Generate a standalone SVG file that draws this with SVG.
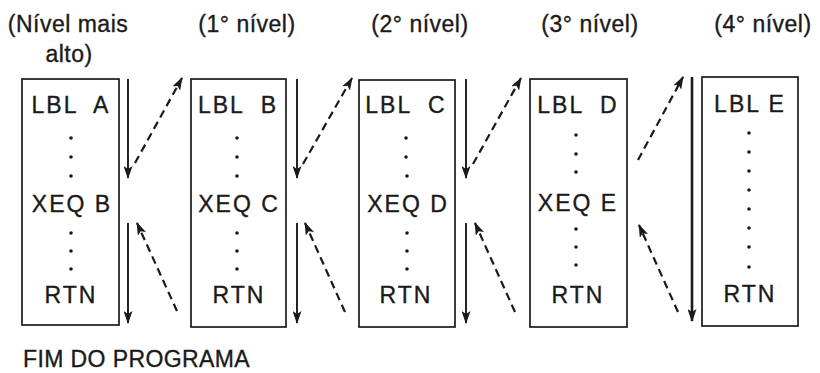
<svg xmlns="http://www.w3.org/2000/svg" width="820" height="373" viewBox="0 0 820 373">
<style>
text{font-family:"Liberation Sans",Arial,sans-serif;font-size:23px;fill:#1a1a1a;stroke:#1a1a1a;stroke-width:0.35}
.t{text-anchor:middle;letter-spacing:0.5px}
.b{text-anchor:middle;letter-spacing:2px}
.box{fill:none;stroke:#1a1a1a;stroke-width:1.7}
.dot{fill:#1a1a1a}
.s{stroke:#1a1a1a;stroke-width:1.9;fill:none;marker-end:url(#ah)}
.d{stroke:#1a1a1a;stroke-width:2.2;fill:none;stroke-dasharray:8 5;marker-end:url(#ah)}
</style>
<defs>
<marker id="ah" viewBox="0 0 13 9" refX="12" refY="4.5" markerWidth="13" markerHeight="9" markerUnits="userSpaceOnUse" orient="auto">
<path d="M0,0 L13,4.5 L0,9 L3,4.5 z" fill="#1a1a1a"/>
</marker>
</defs>
<g id="titles">
<text class="t" x="68" y="32">(Nível mais</text>
<text class="t" x="69" y="62">alto)</text>
<text class="t" x="247" y="32">(1° nível)</text>
<text class="t" x="420" y="32">(2° nível)</text>
<text class="t" x="590" y="32">(3° nível)</text>
<text class="t" x="763" y="32">(4° nível)</text>
</g>
<g id="boxA">
<rect class="box" x="22" y="79" width="97" height="246"/>
<text class="b" x="71" y="113" xml:space="preserve">LBL  A</text>
<circle class="dot" cx="71" cy="138" r="1.8"/><circle class="dot" cx="71" cy="157" r="1.8"/><circle class="dot" cx="71" cy="176" r="1.8"/>
<text class="b" x="72" y="212">XEQ B</text>
<circle class="dot" cx="71" cy="233" r="1.8"/><circle class="dot" cx="71" cy="251" r="1.8"/><circle class="dot" cx="71" cy="269" r="1.8"/>
<text class="b" x="71" y="303">RTN</text>
</g>
<g id="boxB">
<rect class="box" x="191" y="79" width="95" height="248"/>
<text class="b" x="238" y="113" xml:space="preserve">LBL  B</text>
<circle class="dot" cx="237" cy="138" r="1.8"/><circle class="dot" cx="237" cy="157" r="1.8"/><circle class="dot" cx="237" cy="176" r="1.8"/>
<text class="b" x="239" y="212">XEQ C</text>
<circle class="dot" cx="237" cy="233" r="1.8"/><circle class="dot" cx="237" cy="251" r="1.8"/><circle class="dot" cx="237" cy="269" r="1.8"/>
<text class="b" x="239" y="303">RTN</text>
</g>
<g id="boxC">
<rect class="box" x="359" y="80" width="96" height="247"/>
<text class="b" x="406" y="113" xml:space="preserve">LBL  C</text>
<circle class="dot" cx="406" cy="138" r="1.8"/><circle class="dot" cx="406" cy="157" r="1.8"/><circle class="dot" cx="407" cy="176" r="1.8"/>
<text class="b" x="408" y="212">XEQ D</text>
<circle class="dot" cx="407" cy="233" r="1.8"/><circle class="dot" cx="407" cy="251" r="1.8"/><circle class="dot" cx="407" cy="269" r="1.8"/>
<text class="b" x="406" y="303">RTN</text>
</g>
<g id="boxD">
<rect class="box" x="530" y="79" width="97" height="248"/>
<text class="b" x="578" y="113" xml:space="preserve">LBL  D</text>
<circle class="dot" cx="576" cy="135" r="1.8"/><circle class="dot" cx="576" cy="154" r="1.8"/><circle class="dot" cx="576" cy="172" r="1.8"/>
<text class="b" x="578" y="211">XEQ E</text>
<circle class="dot" cx="576" cy="229" r="1.8"/><circle class="dot" cx="576" cy="247" r="1.8"/><circle class="dot" cx="576" cy="265" r="1.8"/>
<text class="b" x="578" y="303">RTN</text>
</g>
<g id="boxE">
<rect class="box" x="702" y="77" width="96" height="249"/>
<text class="b" x="750" y="112">LBL E</text>
<circle class="dot" cx="749" cy="133" r="1.8"/><circle class="dot" cx="749" cy="152" r="1.8"/><circle class="dot" cx="749" cy="171" r="1.8"/><circle class="dot" cx="749" cy="190" r="1.8"/><circle class="dot" cx="749" cy="209" r="1.8"/><circle class="dot" cx="749" cy="228" r="1.8"/><circle class="dot" cx="749" cy="247" r="1.8"/><circle class="dot" cx="749" cy="267" r="1.8"/>
<text class="b" x="750" y="302">RTN</text>
</g>
<g id="connectors">
<line class="s" x1="128" y1="79" x2="128" y2="178"/>
<line class="s" x1="128" y1="223" x2="128" y2="323"/>
<line class="d" x1="135" y1="163" x2="182" y2="78"/>
<line class="d" x1="177" y1="311" x2="137" y2="223"/>
<line class="s" x1="297" y1="79" x2="297" y2="178"/>
<line class="s" x1="297" y1="223" x2="297" y2="323"/>
<line class="d" x1="303" y1="164" x2="352" y2="78"/>
<line class="d" x1="345" y1="312" x2="305" y2="223"/>
<line class="s" x1="466" y1="79" x2="466" y2="178"/>
<line class="s" x1="466" y1="223" x2="466" y2="323"/>
<line class="d" x1="473" y1="164" x2="521" y2="78"/>
<line class="d" x1="515" y1="312" x2="475" y2="223"/>
<line class="d" x1="638" y1="160" x2="683" y2="77"/>
<line class="d" x1="678" y1="312" x2="639" y2="225"/>
<line class="s" style="stroke-width:2.6" x1="692" y1="77" x2="692" y2="321"/>
</g>
<g id="footer">
<text x="23" y="367" style="letter-spacing:0.4px">FIM DO PROGRAMA</text>
</g>
</svg>
